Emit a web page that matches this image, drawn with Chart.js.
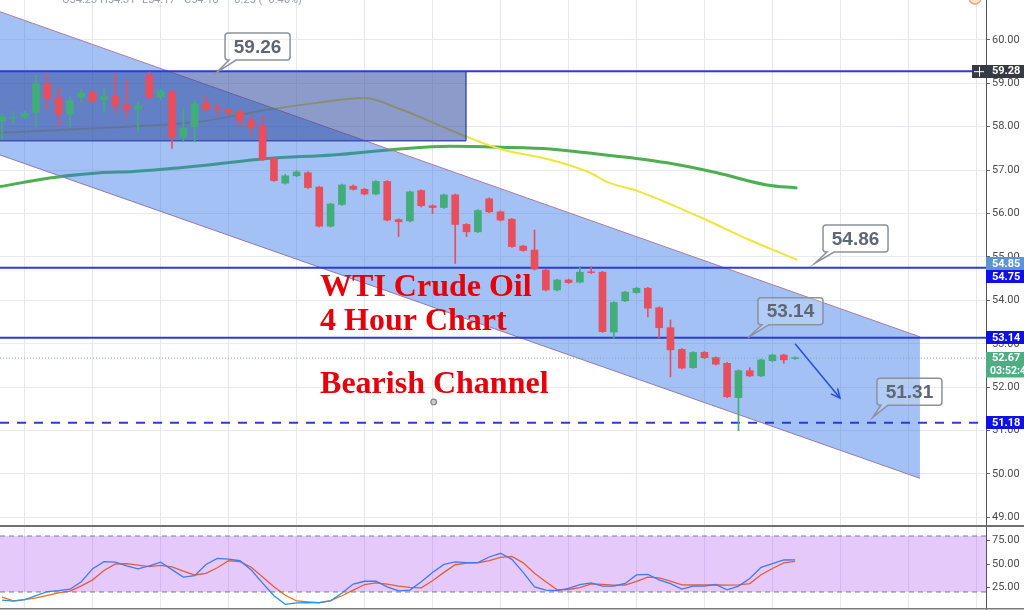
<!DOCTYPE html>
<html><head><meta charset="utf-8">
<script src="https://cdn.jsdelivr.net/npm/chart.js@4.4.1/dist/chart.umd.min.js"></script>
<style>
html,body{margin:0;padding:0;background:#fff;width:1024px;height:610px;overflow:hidden;}
#wrap{position:relative;width:1024px;height:610px;}
#main{position:absolute;left:0;top:0;width:1024px;height:525px;}
#stoch{position:absolute;left:0;top:525px;width:1024px;height:85px;}
</style></head><body>
<div id="wrap"><canvas id="main" width="1024" height="525"></canvas><canvas id="stoch" width="1024" height="85"></canvas></div>
<script>
// ---------- DATA ----------
const candleOpen  = [58.14,58.20,58.22,58.33,58.99,58.66,58.29,58.68,58.78,58.62,
                     58.70,58.50,58.40,59.19,58.69,58.81,57.76,58.00,58.55,58.45,
                     58.40,58.35,58.14,58.02,57.27,56.70,56.87,56.94,56.61,55.71,
                     56.21,56.63,56.56,56.45,56.74,55.86,55.83,56.53,56.18,56.14,
                     56.43,55.75,55.58,56.34,56.04,55.87,55.25,55.16,54.70,54.24,
                     54.47,54.42,54.66,54.65,53.27,53.99,54.18,54.28,53.83,53.37,
                     52.87,52.45,52.80,52.68,52.55,51.76,52.38,52.26,52.61,52.74,52.66];
const candleHigh  = [58.30,58.36,58.36,59.19,59.24,58.92,58.68,58.86,58.86,58.88,
                     59.22,59.08,58.58,59.26,58.86,58.86,58.41,58.62,58.70,58.56,
                     58.43,58.43,58.27,58.25,57.30,56.90,56.99,56.97,56.63,56.24,
                     56.68,56.66,56.58,56.76,56.76,55.88,56.52,56.55,56.20,56.45,
                     56.45,55.77,56.09,56.36,56.06,55.89,55.27,55.62,54.72,54.49,
                     54.49,54.78,54.78,54.67,53.97,54.21,54.30,54.30,53.85,53.55,
                     52.89,52.82,52.82,52.70,52.57,52.40,52.45,52.65,52.76,52.76,52.70];
const candleLow   = [57.70,58.05,58.18,58.00,58.40,58.00,58.00,58.58,58.56,58.32,
                     58.33,58.20,57.90,58.62,58.62,57.50,57.66,57.66,58.35,58.28,
                     58.28,58.00,57.80,57.22,56.74,56.68,56.85,56.58,55.69,55.69,
                     56.19,56.54,56.43,56.43,55.83,55.47,55.81,56.15,56.00,56.12,
                     54.85,55.47,55.56,56.02,55.83,55.22,55.13,54.70,54.22,54.22,
                     54.39,54.40,54.62,53.26,53.12,53.97,54.16,53.62,53.13,52.24,
                     52.42,52.43,52.66,52.51,51.76,51.00,52.24,52.24,52.59,52.55,52.64];
const candleClose = [58.23,58.21,58.31,58.99,58.66,58.29,58.60,58.78,58.60,58.70,
                     58.48,58.40,58.48,58.69,58.82,57.76,57.97,58.53,58.39,58.42,
                     58.33,58.14,58.00,57.25,56.76,56.87,56.96,56.60,55.71,56.22,
                     56.66,56.56,56.45,56.74,55.85,55.81,56.50,56.18,56.14,56.43,
                     55.75,55.58,56.07,56.04,55.85,55.24,55.15,54.72,54.24,54.47,
                     54.41,54.65,54.64,53.28,53.95,54.19,54.28,53.82,53.37,52.86,
                     52.44,52.80,52.68,52.53,51.78,52.38,52.26,52.63,52.74,52.63,52.68];

const maFastIdx = [-0.18,8.65,17.5,23.4,27.8,32.0,35.1,41.0,44.2,48.4,51.9,53.4,56.3,61.6,66.0,70.2];
const maFastVal = [57.86,57.97,58.12,58.39,58.55,58.66,58.41,57.77,57.47,57.24,56.94,56.73,56.50,55.92,55.39,54.93];
const maSlowIdx = [-0.18,4.2,8.65,11.6,17.5,23.4,29.2,35.1,39.5,44.0,48.4,51.6,55.7,58.7,63.1,67.5,70.2];
const maSlowVal = [56.62,56.82,56.94,56.97,57.10,57.27,57.35,57.49,57.55,57.53,57.49,57.40,57.28,57.17,56.94,56.66,56.59];

const stochK = [11.3,10.3,11.8,16,20.3,21.5,23,31,45,52.5,
                52,48,44.8,48,52,44,36,37.5,49.5,56,
                55.2,53.5,43.5,29.5,16,6.8,8.3,8.5,8.7,10.5,
                19,28.5,31.5,31.5,25.5,21.2,22,31,41,49.5,
                52.3,51.4,51.4,57.5,61.5,55,41,25.5,22,21.5,
                24,28,29.8,26.2,26.2,29.2,38.3,38.8,33,29,
                23.1,26.2,26.2,28.2,22.3,26.3,34.5,46.5,50.4,54.3,54.5];
const stochD = [14.6,10.5,11.8,13.7,16.5,19,21,26.5,33,43,
                50,50.3,48.8,47.2,48.5,47,42.3,38.2,40,46,
                53.5,52.5,46.5,36,25.5,16.5,10.4,9.5,8.5,10.8,
                16,22,28,29.8,28.5,26.3,25,24.5,32,41,
                49.2,50.9,51.3,53.5,57,58.2,51.2,40,31,22.4,
                22.7,24.6,28.8,28.2,27.3,27.5,31.3,36,35.2,31.6,
                27.7,27.5,27.6,27.5,27.4,27.6,29,38.5,45.2,51.2,52.9];
const stochBand = [80, 20];

const priceTicks = [49,50,51,52,53,54,55,56,57,58,59,60];
const stochTicks = [25,50,75];
const gridIdx = [2,8,14,20,26,32,38,44,50,56,62,68,74,80,86];

const levelSolid = [59.28, 54.75, 53.14];
const levelDashed = [51.18];
const lastPrice = [52.67];
const boxIdx = [-0.18, 40.95];
const boxPrice = [59.26, 57.68];
const channelIdx = [-0.18, 81.02];
const channelUpper = [60.65, 53.16];
const channelLower = [57.35, 49.90];
const arrowIdx = [70.0, 73.96];
const arrowPrice = [53.0, 51.75];
const markerIdx = [38.1];
const markerPrice = [51.66];

const calloutText  = ['59.26','54.86','53.14','51.31'];
const calloutIdx   = [18.98, 71.76, 65.84, 76.87];
const calloutPrice = [59.26, 54.86, 53.14, 51.31];

const titleLines = ['WTI Crude Oil','4 Hour Chart','Bearish Channel'];
const titleIdx = [28.07, 28.07, 28.07];
const titlePrice = [54.10, 53.32, 51.87];

const tagValues = [59.28, 54.85, 54.75, 53.14, 52.67, 51.18];
const tagLabels = ['59.28','54.85','54.75','53.14','52.67','51.18'];
const countdownLabel = '03:52:44';
const headerLabels = ['O54.23','H54.31','L54.17','C54.18','\u22120.25 (\u22120.46%)'];

// ---------- VIEW ----------
const xMin = -0.18, xMax = 86.85;
const yMin = 48.825, yMax = 60.92;
const sMin = 0.71, sMax = 91.79;

const RED = '#e94e5c', GREEN = '#43ad79', LEVEL = '#2b3bd6';
const hline = v => [{x:xMin,y:v},{x:xMax,y:v}];
const colors = candleOpen.map((o,i)=> candleClose[i] >= o ? GREEN : RED);

const xScaleCfg = {
  type:'linear', min:xMin, max:xMax, offset:false,
  grid:{offset:false, color:'#e6e8ee', drawTicks:false},
  border:{display:false}, ticks:{display:false},
  afterBuildTicks: s => { s.ticks = gridIdx.map(v=>({value:v})); },
  afterFit: s => { s.height = 0; }
};

function roundRectPath(ctx, L, T, W, H, r, tail){
  const R = L+W, B = T+H;
  ctx.beginPath();
  ctx.moveTo(L+r, T);
  ctx.lineTo(R-r, T); ctx.arcTo(R, T, R, T+r, r);
  ctx.lineTo(R, B-r); ctx.arcTo(R, B, R-r, B, r);
  if (tail){ ctx.lineTo(L+11, B); ctx.lineTo(tail.x, tail.y); ctx.lineTo(L+4, B); }
  ctx.lineTo(L+r, B); ctx.arcTo(L, B, L, B-r, r);
  ctx.lineTo(L, T+r); ctx.arcTo(L, T, L+r, T, r);
  ctx.closePath();
}

const calloutOffset = [[8,-12],[8,-11],[10,-13],[4,-12]];

const mainDecor = {
  id:'mainDecor',
  afterDatasetsDraw(chart){
    const ctx = chart.ctx, xs = chart.scales.x, ys = chart.scales.y;
    ctx.save();
    markerIdx.forEach((v,i)=>{
      const px = xs.getPixelForValue(v), py = ys.getPixelForValue(markerPrice[i]);
      ctx.beginPath(); ctx.arc(px, py, 2.8, 0, Math.PI*2);
      ctx.fillStyle = '#c9c9cc'; ctx.fill(); ctx.lineWidth = 1.2; ctx.strokeStyle = '#888'; ctx.stroke();
    });
    const ax1 = xs.getPixelForValue(arrowIdx[0]), ay1 = ys.getPixelForValue(arrowPrice[0]);
    const ax2 = xs.getPixelForValue(arrowIdx[1]), ay2 = ys.getPixelForValue(arrowPrice[1]);
    ctx.strokeStyle = '#2a52d6'; ctx.lineWidth = 1.6;
    ctx.beginPath(); ctx.moveTo(ax1, ay1); ctx.lineTo(ax2, ay2); ctx.stroke();
    const ang = Math.atan2(ay2-ay1, ax2-ax1);
    ctx.beginPath();
    ctx.moveTo(ax2 - 10*Math.cos(ang-0.45), ay2 - 10*Math.sin(ang-0.45));
    ctx.lineTo(ax2, ay2);
    ctx.lineTo(ax2 - 10*Math.cos(ang+0.45), ay2 - 10*Math.sin(ang+0.45));
    ctx.stroke();
    calloutText.forEach((t,i)=>{
      const px = xs.getPixelForValue(calloutIdx[i]), py = ys.getPixelForValue(calloutPrice[i]);
      const L = px + calloutOffset[i][0], B = py + calloutOffset[i][1];
      const W = 65, H = 27, T = B - H;
      roundRectPath(ctx, L, T, W, H, 3, {x:px, y:py});
      ctx.fillStyle = 'rgba(255,255,255,0.18)'; ctx.fill();
      ctx.strokeStyle = '#8c929b'; ctx.lineWidth = 1.5; ctx.stroke();
      ctx.fillStyle = '#5f6773'; ctx.font = 'bold 19px "Liberation Sans", Arial, sans-serif';
      ctx.textAlign = 'center'; ctx.textBaseline = 'middle';
      ctx.fillText(t, L + W/2, T + H/2 + 1);
    });
    ctx.fillStyle = '#e6000c';
    ctx.font = 'bold 32px "Liberation Serif", "Times New Roman", serif';
    ctx.textAlign = 'left'; ctx.textBaseline = 'alphabetic';
    titleLines.forEach((t,i)=>{
      ctx.fillText(t, xs.getPixelForValue(titleIdx[i]), ys.getPixelForValue(titlePrice[i]));
    });
    ctx.restore();
  },
  afterDraw(chart){
    const ctx = chart.ctx, ys = chart.scales.y;
    ctx.save();
    ctx.fillStyle = '#9aa0a8'; ctx.font = '11px Roboto, sans-serif';
    ctx.textAlign = 'left'; ctx.textBaseline = 'alphabetic';
    const hx = [62, 100, 142, 184, 228];
    headerLabels.forEach((t,i)=> ctx.fillText(t, hx[i], 3));
    ctx.beginPath(); ctx.arc(975, -2, 6, 0, Math.PI*2);
    ctx.fillStyle = '#fde3d0'; ctx.fill(); ctx.strokeStyle = '#f0a070'; ctx.lineWidth = 1.3; ctx.stroke();
    const bgs = ['#363a45','#5b96d4','#1010ee','#0f10e6','#4cae82','#0f10e6'];
    let items = tagValues.map((v,i)=>({yc: ys.getPixelForValue(v), text: tagLabels[i], bg: bgs[i], i}));
    items.sort((a,b)=>a.yc-b.yc);
    for (let k=1;k<items.length;k++){ if (items[k].yc < items[k-1].yc + 13.5) items[k].yc = items[k-1].yc + 13.5; }
    const drawTag = (yc, text, bg) => {
      ctx.fillStyle = bg; ctx.fillRect(986, Math.round(yc-6.5), 38, 13);
      ctx.fillStyle = '#ffffff'; ctx.font = 'bold 11px Roboto, sans-serif';
      ctx.textAlign = 'left'; ctx.textBaseline = 'middle';
      ctx.fillText(text, 992, yc + 0.5);
    };
    items.forEach(it=>{
      drawTag(it.yc, it.text, it.bg);
      if (it.i === 0){
        ctx.fillStyle = it.bg; ctx.fillRect(972, Math.round(it.yc-6.5), 14, 13);
        ctx.strokeStyle = '#fff'; ctx.lineWidth = 1;
        ctx.beginPath(); ctx.moveTo(974, it.yc+0.5); ctx.lineTo(984, it.yc+0.5);
        ctx.moveTo(979.5, it.yc-4.5); ctx.lineTo(979.5, it.yc+5.5); ctx.stroke();
      }
      if (it.i === 4){
        ctx.fillStyle = it.bg; ctx.fillRect(986, Math.round(it.yc+6.5), 38, 12.5);
        ctx.fillStyle = '#ffffff'; ctx.font = 'bold 10.5px Roboto, sans-serif';
        ctx.fillText(countdownLabel, 990, it.yc + 13);
      }
    });
    ctx.restore();
  }
};

new Chart(document.getElementById('main'), {
  type:'bar',
  data:{ datasets:[
    {type:'bar', data: candleOpen.map((o,i)=>({x:i, y:[o, candleClose[i]]})), backgroundColor: colors, barThickness:7, grouped:false, order:0},
    {type:'bar', data: candleOpen.map((o,i)=>({x:i, y:[candleLow[i], candleHigh[i]]})), backgroundColor: colors, barThickness:1, grouped:false, order:1},
    ...levelSolid.map(v=>({type:'line', data:hline(v), borderColor:LEVEL, borderWidth:2, pointRadius:0, order:2})),
    ...levelDashed.map(v=>({type:'line', data:hline(v), borderColor:LEVEL, borderWidth:2, borderDash:[9,8], pointRadius:0, order:2})),
    ...lastPrice.map(v=>({type:'line', data:hline(v), borderColor:'#7fae94', borderWidth:1, borderDash:[1,2], pointRadius:0, order:2})),
    {type:'line', data: boxIdx.map(v=>({x:v, y:boxPrice[0]})), borderWidth:0, borderColor:'rgba(0,0,0,0)', pointRadius:0, fill:'+1', backgroundColor:'rgba(48,72,160,0.55)', order:3},
    {type:'line', data: boxIdx.map(v=>({x:v, y:boxPrice[1]})), borderWidth:1.5, borderColor:'#4457b5', pointRadius:0, order:3},
    {type:'line', data: boxPrice.map(p=>({x:boxIdx[1], y:p})), borderWidth:1.5, borderColor:'#4457b5', pointRadius:0, order:3},
    {type:'line', data: channelIdx.map((v,i)=>({x:v, y:channelUpper[i]})), borderWidth:1, borderColor:'#b07c9c', pointRadius:0, fill:'+1', backgroundColor:'rgba(50,118,230,0.45)', order:5},
    {type:'line', data: channelIdx.map((v,i)=>({x:v, y:channelLower[i]})), borderWidth:1, borderColor:'#b07c9c', pointRadius:0, order:5},
    {type:'line', data: maFastIdx.map((v,i)=>({x:v, y:maFastVal[i]})), borderWidth:2, borderColor:'#f1e43a', pointRadius:0, cubicInterpolationMode:'monotone', order:7},
    {type:'line', data: maSlowIdx.map((v,i)=>({x:v, y:maSlowVal[i]})), borderWidth:3, borderColor:'#4caf50', pointRadius:0, cubicInterpolationMode:'monotone', order:7}
  ]},
  options:{
    responsive:false, animation:false, devicePixelRatio:1,
    layout:{padding:0},
    plugins:{legend:{display:false}, tooltip:{enabled:false}},
    scales:{
      x: xScaleCfg,
      y: { position:'right', min:yMin, max:yMax,
           grid:{color:'#e8eaef', tickLength:4, tickColor:'#666'},
           border:{color:'#555', width:1},
           ticks:{ callback:v=>Number(v).toFixed(2), color:'#4d4d4d', font:{size:11, family:'Roboto'}, padding:2, autoSkip:false },
           afterBuildTicks: s => { s.ticks = priceTicks.map(v=>({value:v})); },
           afterFit: s => { s.width = 38; s.paddingTop = 0; s.paddingBottom = 0; } }
    }
  },
  plugins:[mainDecor]
});

const stochDecor = {
  id:'stochDecor',
  afterDraw(chart){
    const ctx = chart.ctx;
    ctx.save();
    ctx.fillStyle = '#707070'; ctx.fillRect(0, 0, 1024, 2);
    ctx.fillStyle = '#7a7a7a'; ctx.fillRect(0, 83, 1024, 1.5);
    ctx.restore();
  }
};

new Chart(document.getElementById('stoch'), {
  type:'line',
  data:{ datasets:[
    {data:hline(stochBand[0]), borderColor:'#7c7c8a', borderWidth:1, borderDash:[5,4], pointRadius:0, fill:'+1', backgroundColor:'rgba(150,40,240,0.25)', order:0},
    {data:hline(stochBand[1]), borderColor:'#7c7c8a', borderWidth:1, borderDash:[5,4], pointRadius:0, order:0},
    {data:stochK.map((v,i)=>({x:i,y:v})), borderColor:'#2196f3', borderWidth:1.3, pointRadius:0, order:2},
    {data:stochD.map((v,i)=>({x:i,y:v})), borderColor:'#ff6d00', borderWidth:1.3, pointRadius:0, order:2}
  ]},
  options:{
    responsive:false, animation:false, devicePixelRatio:1,
    layout:{padding:0},
    plugins:{legend:{display:false}, tooltip:{enabled:false}},
    scales:{
      x: xScaleCfg,
      y: { position:'right', min:sMin, max:sMax,
           grid:{drawOnChartArea:false, tickLength:4, tickColor:'#666'},
           border:{color:'#555', width:1},
           ticks:{ callback:v=>Number(v).toFixed(2), color:'#4d4d4d', font:{size:11, family:'Roboto'}, padding:2, autoSkip:false },
           afterBuildTicks: s => { s.ticks = stochTicks.map(v=>({value:v})); },
           afterFit: s => { s.width = 38; s.paddingTop = 0; s.paddingBottom = 0; } }
    }
  },
  plugins:[stochDecor]
});
</script></body></html>
